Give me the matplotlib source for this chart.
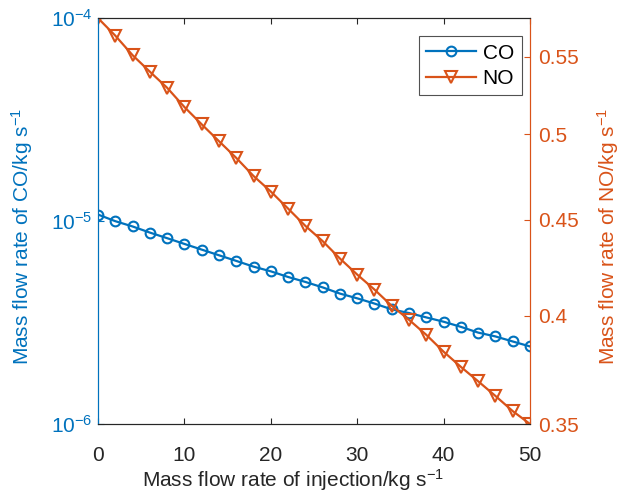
import matplotlib
matplotlib.use("Agg")
import matplotlib.pyplot as plt
from matplotlib.ticker import FixedLocator, FixedFormatter, NullLocator

plt.rcParams['font.family'] = ['Liberation Sans', 'DejaVu Sans']
plt.rcParams['mathtext.fontset'] = 'custom'
plt.rcParams['mathtext.rm'] = 'Liberation Sans'
plt.rcParams['mathtext.it'] = 'Liberation Sans'
plt.rcParams['mathtext.default'] = 'regular'

injection = list(range(0, 51, 2))
co = [1.076e-5, 9.98e-6, 9.40e-6, 8.77e-6, 8.23e-6, 7.71e-6, 7.23e-6, 6.78e-6,
      6.36e-6, 5.96e-6, 5.65e-6, 5.30e-6, 5.01e-6, 4.71e-6, 4.39e-6, 4.16e-6,
      3.92e-6, 3.67e-6, 3.52e-6, 3.35e-6, 3.19e-6, 3.01e-6, 2.82e-6, 2.70e-6,
      2.55e-6, 2.41e-6]
no = [0.5769, 0.5646, 0.5512, 0.5401, 0.5295, 0.5171, 0.5062, 0.4958, 0.4857,
      0.4750, 0.4660, 0.4563, 0.4467, 0.4384, 0.4291, 0.4207, 0.4130, 0.4048,
      0.3979, 0.3906, 0.3826, 0.3755, 0.3689, 0.3623, 0.3556, 0.3500]

x_ticks = [0, 10, 20, 30, 40, 50]
co_ticks = [1e-6, 1e-5, 1e-4]
co_tick_labels = [r'$10^{-6}$', r'$10^{-5}$', r'$10^{-4}$']
no_ticks = [0.35, 0.4, 0.45, 0.5, 0.55]
no_tick_labels = ['0.35', '0.4', '0.45', '0.5', '0.55']

blue = '#0072BD'
orange = '#D95319'
dark = '#262626'
fs = 15

fig = plt.figure(figsize=(6.22, 4.96), dpi=100)
ax = fig.add_axes([98/622, 1-424/496, (530-98)/622, (424-18)/496])
ax2 = ax.twinx()

l1, = ax.plot(injection, co, color=blue, lw=1.6, marker='o', ms=7,
              mfc='none', mew=1.5, label='CO')
l2, = ax2.plot(injection, no, color=orange, lw=1.6, marker='v', ms=8,
               mfc='none', mew=1.5, label='NO')

ax.set_xlim(0, 50)
ax.set_yscale('log')
ax.set_ylim(1e-6, 1e-4)
ax.yaxis.set_major_locator(FixedLocator(co_ticks))
ax.yaxis.set_major_formatter(FixedFormatter(co_tick_labels))
ax.yaxis.set_minor_locator(NullLocator())
ax.set_xticks(x_ticks)
ax.set_xticklabels([str(t) for t in x_ticks])

ax2.set_yscale('log')
ax2.set_ylim(0.35, 0.577)
ax2.yaxis.set_major_locator(FixedLocator(no_ticks))
ax2.yaxis.set_major_formatter(FixedFormatter(no_tick_labels))
ax2.yaxis.set_minor_locator(NullLocator())

for a in (ax, ax2):
    for s in ('top', 'bottom'):
        a.spines[s].set_color(dark)
        a.spines[s].set_linewidth(0.8)
    a.spines['left'].set_color(blue)
    a.spines['right'].set_color(orange)
    a.spines['left'].set_linewidth(0.8)
    a.spines['right'].set_linewidth(0.8)

ax.tick_params(axis='x', direction='in', top=True, colors=dark, labelsize=fs,
               length=4, width=0.8, pad=16)
ax.tick_params(axis='y', direction='in', colors=blue, labelsize=fs, length=4,
               width=0.8, pad=4)
ax2.tick_params(axis='y', direction='in', colors=orange, labelsize=fs, length=4,
                width=0.8, pad=6)

ax.set_xlabel(r'Mass flow rate of injection/kg s$^{\mathregular{-1}}$', fontsize=fs,
              color=dark)
ax.xaxis.set_label_coords(0.4525, -0.106)
ax.set_ylabel(r'Mass flow rate of CO/kg s$^{\mathregular{-1}}$', fontsize=fs,
              color=blue)
ax.yaxis.set_label_coords(-0.1458, 0.463)
ax2.set_ylabel(r'Mass flow rate of NO/kg s$^{\mathregular{-1}}$', fontsize=fs,
               color=orange)
ax2.yaxis.set_label_coords(1.150, 0.463)

leg = ax2.legend(handles=[l1, l2], loc='upper right', fontsize=fs,
                 bbox_to_anchor=(0.99, 0.965), frameon=True, fancybox=False,
                 edgecolor=dark, handlelength=2.4, borderpad=0.35,
                 labelspacing=0.3, handletextpad=0.3, borderaxespad=0.2)
leg.get_frame().set_linewidth(0.8)

fig.savefig('out.png', dpi=100)
